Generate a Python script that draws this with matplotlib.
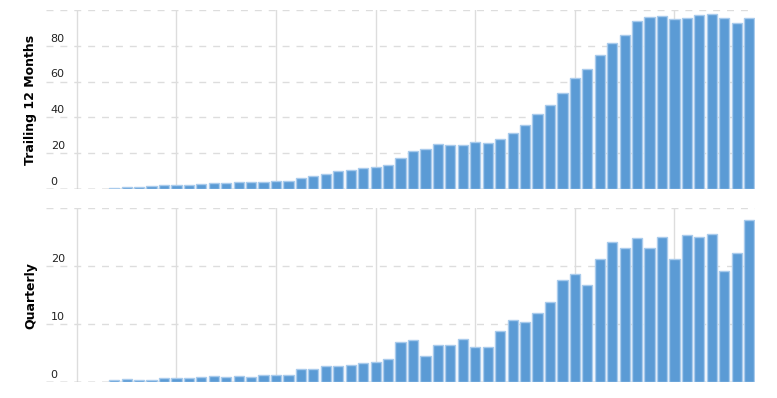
import matplotlib
matplotlib.use("Agg")
import matplotlib.pyplot as plt

# trailing twelve months values (one bar per quarter)
ttm = [0.4, 0.9, 0.9, 1.5, 2.0, 2.0, 2.0, 2.6, 3.2, 3.2, 3.7, 3.7,
       3.7, 4.3, 4.3, 6.0, 7.1, 8.2, 9.9, 10.5, 11.6, 12.1, 13.3, 17.2,
       21.1, 22.2, 25.0, 24.5, 24.5, 26.1, 25.6, 27.8, 31.2, 35.7, 41.8, 46.9,
       53.6, 62.0, 67.0, 74.9, 81.6, 86.1, 93.9, 96.2, 96.7, 95.1, 95.6, 97.3,
       97.9, 95.6, 92.8, 95.6]

# quarterly values
quarterly = [0.34, 0.57, 0.34, 0.34, 0.74, 0.74, 0.74, 0.91, 1.09, 0.91, 1.09, 0.91,
             1.26, 1.26, 1.26, 2.29, 2.29, 2.8, 2.8, 2.97, 3.31, 3.49, 4.0, 6.91,
             7.26, 4.51, 6.4, 6.4, 7.43, 6.06, 6.06, 8.8, 10.69, 10.34, 11.89, 13.77,
             17.71, 18.74, 16.86, 21.31, 24.23, 23.2, 24.91, 23.2, 25.09, 21.31, 25.43, 25.09,
             25.6, 19.26, 22.34, 28.0]

ttm_ticks = [0, 20, 40, 60, 80]
q_ticks = [0, 10, 20]

W, H = 777, 398
fig = plt.figure(figsize=(W / 100, H / 100), dpi=100)

bar_color = "#5b9bd5"
edge_color = "#a9cbec"
grid_color = "#dddddd"
x = list(range(len(ttm)))
vlines = list(range(-3, len(ttm), 8))


def panel(rect, values, top, ticks, label):
    ax = fig.add_axes(rect)
    ax.set_xlim(-5.5, 51.5)
    ax.set_ylim(0, top)
    for v in vlines:
        ax.axvline(v, color=grid_color, lw=1, zorder=0)
    for t in ticks + [top]:
        ax.axhline(t, color=grid_color, lw=1, ls=(0, (5, 5)), zorder=0)
    ax.axhline(0, color="#b0b0b0", lw=1, ls=(0, (5, 5)), zorder=0)
    ax.bar(x, values, width=0.82, color=bar_color, edgecolor=edge_color,
           linewidth=1, zorder=2)
    for t in ticks:
        ax.text(-5.1, t + top * 0.012, str(t), fontsize=8, color="#222222",
                ha="left", va="bottom", zorder=3)
    for s in ax.spines.values():
        s.set_visible(False)
    ax.set_xticks([])
    ax.set_yticks([])
    ax.set_ylabel(label, fontsize=9, fontweight="bold", labelpad=6)
    return ax


panel([45.7 / W, 1 - 189 / H, 709.7 / W, 179 / H], ttm, 100, ttm_ticks,
      "Trailing 12 Months")
panel([45.7 / W, 1 - 382.3 / H, 709.7 / W, 174 / H], quarterly, 30, q_ticks,
      "Quarterly")

fig.savefig("out.png", dpi=100)
